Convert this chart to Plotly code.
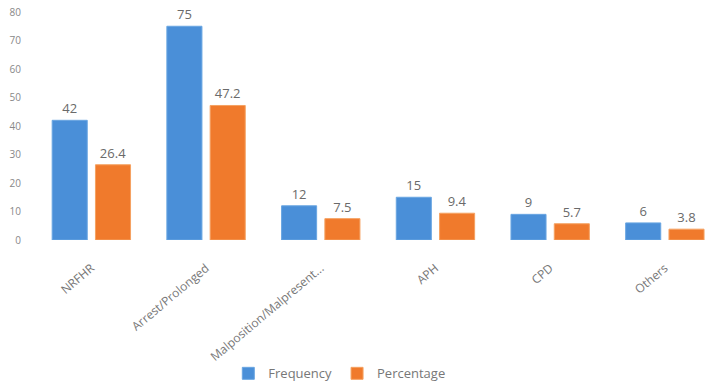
import plotly.graph_objects as go

categories = ["NRFHR", "Arrest/Prolonged", "Malposition/Malpresent...", "APH", "CPD", "Others"]
frequency = [42, 75, 12, 15, 9, 6]
percentage = [26.4, 47.2, 7.5, 9.4, 5.7, 3.8]
y_ticks = [0, 10, 20, 30, 40, 50, 60, 70, 80]

fig = go.Figure()
fig.add_trace(go.Bar(
    x=categories, y=frequency, name="Frequency",
    marker=dict(color="#4a8fd8", line=dict(color="#6aa6e2", width=1)),
    text=[str(v) for v in frequency], textposition="outside",
    textfont=dict(color="#6a6a6a", size=13), cliponaxis=False,
))
fig.add_trace(go.Bar(
    x=categories, y=percentage, name="Percentage",
    marker=dict(color="#f07a2c", line=dict(color="#f5a262", width=1)),
    text=[str(v) for v in percentage], textposition="outside",
    textfont=dict(color="#6a6a6a", size=13), cliponaxis=False,
))

fig.update_layout(
    width=705, height=382,
    margin=dict(l=34, r=0, t=12, b=142, autoexpand=False),
    paper_bgcolor="white", plot_bgcolor="white",
    barmode="group", bargap=0.245, bargroupgap=0.19,
    font=dict(family="Open Sans, Liberation Sans, sans-serif", color="#777777", size=10),
    showlegend=True,
    legend=dict(orientation="h", x=0.455, xanchor="center", y=-0.585, yanchor="middle",
                font=dict(size=13, color="#777777"), itemwidth=30),
    xaxis=dict(range=[-0.5, 5.35], tickangle=-40, showgrid=False, showline=False,
               ticks="", automargin=False, ticklabelstandoff=18,
               tickfont=dict(size=12, color="#777777")),
    yaxis=dict(range=[0, 80], tickvals=y_ticks, showgrid=False, showline=False,
               zeroline=False, ticks="", ticklabelstandoff=12, automargin=False,
               tickfont=dict(size=10, color="#888888")),
)

fig.write_html("out.html", config={"displayModeBar": False},
               post_script="document.body.style.margin='0px';")
